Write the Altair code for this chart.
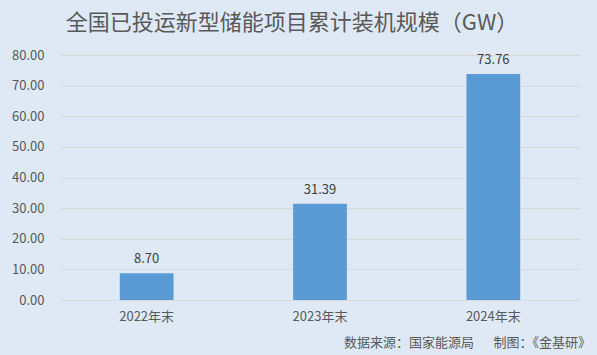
import altair as alt
import pandas as pd

categories = ["2022年末", "2023年末", "2024年末"]
values = [8.70, 31.39, 73.76]
title_text = "全国已投运新型储能项目累计装机规模（GW）"
source_text = "数据来源：国家能源局\u3000\u2002制图：《金基研》"

df = pd.DataFrame({"cat": categories, "val": values})
df["label"] = df["val"].map(lambda v: f"{v:.2f}")
src_df = pd.DataFrame({"t": [source_text]})

FONT = "Noto Sans CJK SC"
GRAY = "#595959"

x = alt.X("cat:N", sort=categories, title=None,
          scale=alt.Scale(paddingInner=0.69, paddingOuter=0.345),
          axis=alt.Axis(labelAngle=0, domain=True, domainColor="#d9d9d9", ticks=False,
                        labelColor=GRAY, labelFontSize=13, labelFont=FONT, labelPadding=10))
y = alt.Y("val:Q", title=None,
          scale=alt.Scale(domain=[0, 80]),
          axis=alt.Axis(values=list(range(0, 81, 10)), format=".2f", domain=False, ticks=False,
                        labelOverlap=False,
                        labelColor=GRAY, labelFontSize=13, labelFont=FONT, labelPadding=16,
                        gridColor="#d9d9d9", gridWidth=1))

bars = alt.Chart(df).mark_bar(color="#5b9bd5").encode(x=x, y=y)
labels = alt.Chart(df).mark_text(dy=-14, fontSize=13, font=FONT, fontWeight="normal", color="#404040").encode(
    x=x, y=y, text="label:N")
src = alt.Chart(src_df).mark_text(align="right", baseline="middle", fontSize=13, font=FONT,
                                  fontWeight="normal", color=GRAY).encode(
    x=alt.value(531), y=alt.value(288), text="t:N")

chart = alt.layer(bars, labels, src).properties(
    width=520, height=245,
    title=alt.TitleParams(title_text, font=FONT, fontSize=22, fontWeight="normal", color=GRAY,
                          anchor="middle", dx=-28, offset=14),
    autosize=alt.AutoSizeParams(type="none"),
    padding={"left": 60, "top": 55, "right": 17, "bottom": 55},
    background="#dee9f5",
).configure_view(stroke=None)

chart.save("out.html", embed_options={"renderer": "svg", "actions": False})
